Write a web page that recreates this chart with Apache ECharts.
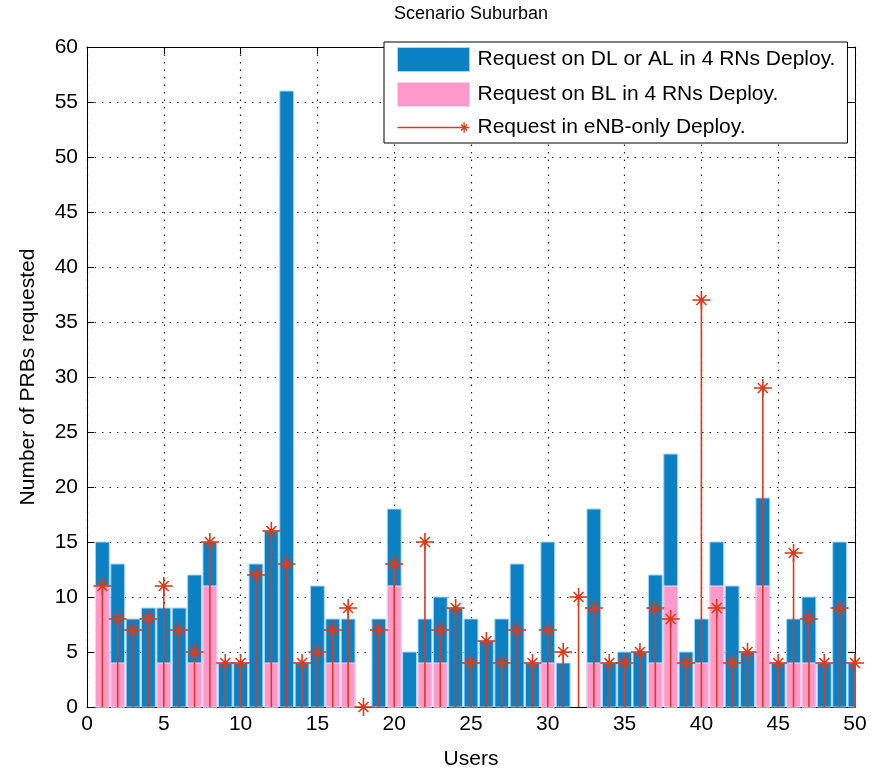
<!DOCTYPE html>
<html>
<head>
<meta charset="utf-8">
<script src="https://cdn.jsdelivr.net/npm/echarts@6/dist/echarts.min.js"></script>
<style>
html,body{margin:0;padding:0;background:#fff;}
#main{width:877px;height:775px;}
</style>
</head>
<body>
<div id="main"></div>
<script>
// data
var users = [1,2,3,4,5,6,7,8,9,10,11,12,13,14,15,16,17,18,19,20,21,22,23,24,25,26,27,28,29,30,31,32,33,34,35,36,37,38,39,40,41,42,43,44,45,46,47,48,49,50];
var dlAlReq = [15,13,8,9,9,9,12,15,4,4,13,16,56,4,11,8,8,0,8,18,5,8,10,9,8,6,8,13,4,15,4,0,18,4,5,5,12,23,5,8,15,11,5,19,4,8,10,4,15,4];
var blReq = [11,4,0,0,4,0,4,11,0,0,0,4,0,0,0,4,4,0,0,11,0,4,4,0,0,0,0,0,0,4,0,0,4,0,0,0,4,11,0,4,11,0,0,11,0,4,4,0,0,0];
var enbReq = [11,8,7,8,11,7,5,15,4,4,12,16,13,4,5,7,9,0,7,13,null,15,7,9,4,6,4,7,4,7,5,10,9,4,4,5,9,8,4,37,9,4,5,29,4,14,8,4,9,4];
var yTicks = [0,5,10,15,20,25,30,35,40,45,50,55,60];

var names = ['Request on DL or AL in 4 RNs Deploy.', 'Request on BL in 4 RNs Deploy.', 'Request in eNB-only Deploy.'];
var BLUE = '#0b80c3', PINK = '#ff99cc', RED = '#de3a1c';
var FONT = '"Liberation Sans", Arial, sans-serif';
var BAR_W = 0.9; // bar width in x units

function pairs(xs, ys){
	var out = [];
	for (var i = 0; i < xs.length; i++) {
		if (ys[i] === null || ys[i] === 0 && ys !== enbReq) continue;
		out.push([xs[i], ys[i]]);
	}
	return out;
}

// rotated thin rectangle as svg path piece
function armPath(cx, cy, r, w, ang){
	var c = Math.cos(ang), s = Math.sin(ang);
	var p = [[-r,-w],[r,-w],[r,w],[-r,w]].map(function(q){
		return (cx + q[0]*c - q[1]*s).toFixed(2) + ',' + (cy + q[0]*s + q[1]*c).toFixed(2);
	});
	return 'M' + p[0] + 'L' + p[1] + 'L' + p[2] + 'L' + p[3] + 'Z';
}
var stemIcon = 'path://' + armPath(38, 12, 32, 0.6, 0) +
	armPath(68, 12, 5, 0.6, 0) + armPath(68, 12, 5, 0.6, Math.PI/2) +
	armPath(68, 12, 4, 0.6, Math.PI/4) + armPath(68, 12, 4, 0.6, -Math.PI/4);

function barRenderer(fill, edge){
	return function(params, api){
		var x = api.value(0), v = api.value(1);
		var p0 = api.coord([x - BAR_W/2, v]);
		var p1 = api.coord([x + BAR_W/2, 0]);
		var cs = params.coordSys;
		var r = echarts.graphic.clipRectByRect(
			{x: p0[0], y: p0[1], width: p1[0] - p0[0], height: p1[1] - p0[1]},
			{x: cs.x, y: cs.y, width: cs.width, height: cs.height});
		if (!r) return null;
		return {type:'rect', shape:r, style:{fill:fill, stroke:edge, lineWidth:1}};
	};
}

function renderStem(params, api){
	var x = api.value(0), v = api.value(1);
	var base = api.coord([x, 0]);
	var top = api.coord([x, v]);
	var st = {stroke: RED, lineWidth: 1.6};
	var kids = [{type:'line', shape:{x1:base[0], y1:base[1], x2:top[0], y2:top[1]}, style:st}];
	var arms = [[0, 9], [Math.PI/2, 9], [Math.PI/4, 7], [-Math.PI/4, 7]];
	arms.forEach(function(a){
		var dx = Math.cos(a[0]) * a[1], dy = Math.sin(a[0]) * a[1];
		kids.push({type:'line', shape:{x1:top[0]-dx, y1:top[1]-dy, x2:top[0]+dx, y2:top[1]+dy}, style:st});
	});
	kids.push({type:'circle', shape:{cx:top[0], cy:top[1], r:2.5}, style:{fill:RED}});
	return {type:'group', children:kids};
}

var chart = echarts.init(document.getElementById('main'));
var axisText = {color:'#000', fontSize:21, fontFamily:FONT};
var dotted = {color:'#222', type:[1.5, 6], width:1.2};

var option = {
	animation: false,
	backgroundColor: '#fff',
	textStyle: {fontFamily: FONT},
	grid: {left:87, right:22, top:41, bottom:60},
	legend: {
		orient: 'vertical',
		left: 384, top: 42,
		padding: [5, 12, 5, 13],
		itemGap: 10,
		itemWidth: 72, itemHeight: 24,
		backgroundColor: '#fff',
		borderColor: '#000', borderWidth: 1,
		textStyle: {color:'#000', fontSize:21, fontFamily:FONT, padding:[0,0,0,3]},
		data: [
			{name: names[0], icon: 'rect', itemStyle: {color: BLUE, borderColor: '#a6d6f2', borderWidth: 1}},
			{name: names[1], icon: 'rect', itemStyle: {color: PINK, borderColor: '#ffd2e8', borderWidth: 1}},
			{name: names[2], icon: stemIcon, itemStyle: {color: RED, borderWidth: 0}}
		]
	},
	xAxis: [{
		type: 'value', min: 0, max: 50, interval: 5,
		name: 'Users', nameLocation: 'middle', nameGap: 42,
		nameTextStyle: axisText,
		axisLine: {onZero: false, lineStyle: {color:'#000', width:1}},
		axisTick: {inside: true, length: 7, lineStyle: {color:'#000'}},
		axisLabel: Object.assign({margin: 7}, axisText),
		splitLine: {show: true, lineStyle: dotted}
	}, {
		type: 'value', min: 0, max: 50, interval: 5, position: 'top',
		name: 'Scenario Suburban', nameLocation: 'middle', nameGap: 24,
		nameTextStyle: {color:'#000', fontSize:18, fontFamily:FONT},
		axisLine: {show: true, onZero: false, lineStyle: {color:'#000', width:1}},
		axisTick: {inside: true, length: 7, lineStyle: {color:'#000'}},
		axisLabel: {show: false},
		splitLine: {show: false}
	}],
	yAxis: [{
		type: 'value', min: 0, max: 60, interval: 5,
		name: 'Number of PRBs requested', nameLocation: 'middle', nameGap: 48,
		nameTextStyle: axisText,
		axisLine: {show: true, onZero: false, lineStyle: {color:'#000', width:1}},
		axisTick: {show: true, inside: true, length: 7, lineStyle: {color:'#000'}},
		axisLabel: Object.assign({margin: 9, formatter: function(v){ return yTicks.indexOf(v) >= 0 ? String(v) : ''; }}, axisText),
		splitLine: {show: true, lineStyle: dotted}
	}, {
		type: 'value', min: 0, max: 60, interval: 5, position: 'right',
		axisLine: {show: true, onZero: false, lineStyle: {color:'#000', width:1}},
		axisTick: {show: true, inside: true, length: 7, lineStyle: {color:'#000'}},
		axisLabel: {show: false},
		splitLine: {show: false}
	}],
	series: [{
		name: names[0], type: 'custom',
		data: pairs(users, dlAlReq),
		renderItem: barRenderer(BLUE, '#a6d6f2'),
		itemStyle: {color: BLUE},
		z: 2
	}, {
		name: names[1], type: 'custom',
		data: pairs(users, blReq),
		renderItem: barRenderer(PINK, '#ffd2e8'),
		itemStyle: {color: PINK},
		z: 3
	}, {
		name: names[2], type: 'custom',
		data: pairs(users, enbReq),
		renderItem: renderStem,
		itemStyle: {color: RED},
		z: 4
	}]
};
chart.setOption(option);
</script>
</body>
</html>
